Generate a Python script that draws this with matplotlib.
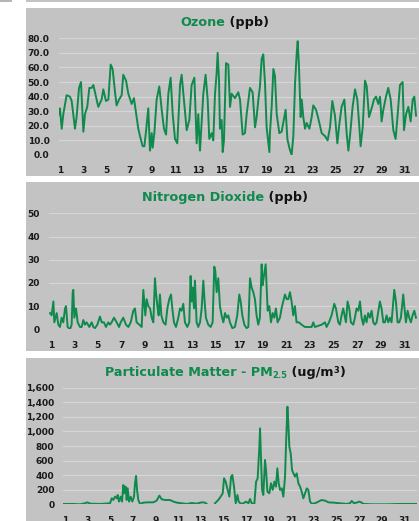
import numpy as np
import matplotlib
matplotlib.use("Agg")
import matplotlib.pyplot as plt
from matplotlib.patches import Rectangle
from matplotlib.ticker import FuncFormatter

# ---------------- data ----------------
ozone_day = [0.83,0.97,1.12,1.26,1.55,1.84,1.99,2.13,2.28,2.42,2.63,2.80,2.92,3.01,3.15,3.35,3.53,3.73,3.88,4.17,
             4.31,4.60,4.75,4.98,5.19,5.39,5.56,5.77,5.91,6.12,6.35,6.49,6.73,6.93,7.22,7.42,7.66,7.80,7.95,8.18,
             8.33,8.47,8.67,8.82,8.97,9.05,9.20,9.40,9.63,9.84,10.04,10.22,10.42,10.62,10.80,11.00,11.20,11.44,11.58,11.78,
             12.02,12.25,12.45,12.69,12.89,13.03,13.18,13.47,13.67,13.85,13.99,14.20,14.34,14.49,14.63,14.72,14.84,14.92,15.07,15.16,
             15.27,15.45,15.65,15.80,15.94,16.23,16.52,16.67,16.90,17.10,17.25,17.54,17.77,17.98,18.12,18.27,18.41,18.56,18.70,18.85,
             18.99,19.14,19.23,19.28,19.43,19.58,19.72,19.87,20.10,20.30,20.51,20.65,20.80,20.97,21.17,21.32,21.47,21.61,21.70,21.81,
             21.96,22.05,22.19,22.34,22.48,22.72,22.92,23.06,23.30,23.50,23.79,24.08,24.31,24.52,24.72,24.95,25.16,25.33,25.53,25.77,
             25.97,26.12,26.26,26.49,26.70,26.90,27.08,27.19,27.37,27.57,27.72,27.92,28.15,28.35,28.53,28.73,28.88,29.02,29.17,29.40,
             29.60,29.81,30.04,30.24,30.42,30.62,30.85,30.97,31.15,31.35,31.55,31.73,31.87,32.02]
ozone_ppb = [27,32,18,28,41,40,37,28,18,26,46,50,31,16,28,33,46,46,48,38,
             33,38,45,37,38,62,59,43,34,38,41,55,51,42,35,39,26,18,13,6,
             6,16,32,3,15,5,15,38,47,31,18,14,42,53,28,11,8,48,55,38,
             17,24,48,53,8,28,3,42,55,38,11,15,10,42,56,70,51,18,24,2,
             10,63,62,33,42,39,43,38,14,15,28,46,43,19,26,38,47,66,69,49,
             19,8,2,15,33,59,54,28,15,16,25,31,11,5,0,13,49,69,78,61,
             26,38,26,18,22,18,26,34,31,25,15,13,10,19,37,27,8,21,33,38,
             15,3,13,33,45,38,19,6,19,51,47,26,32,38,40,35,40,23,31,40,
             46,38,17,11,28,48,50,17,28,33,23,38,40,27]

no2_day = [0.94,1.08,1.23,1.31,1.51,1.65,1.79,1.93,2.07,2.22,2.30,2.44,2.64,2.78,2.87,2.92,3.01,3.15,3.29,3.49,
           3.63,3.77,3.91,4.05,4.28,4.48,4.62,4.76,4.96,5.18,5.33,5.52,5.69,5.89,6.03,6.17,6.37,6.60,6.80,6.94,
           7.16,7.39,7.59,7.79,8.01,8.15,8.29,8.52,8.72,8.86,8.94,9.03,9.14,9.28,9.43,9.57,9.71,9.85,9.93,10.05,
           10.16,10.27,10.39,10.56,10.75,10.90,11.06,11.21,11.32,11.46,11.63,11.83,11.97,12.11,12.25,12.39,12.59,12.76,12.87,12.96,
           13.04,13.16,13.24,13.38,13.52,13.67,13.81,13.95,14.06,14.17,14.37,14.57,14.74,14.88,14.97,15.08,15.22,15.36,15.50,15.65,
           15.79,15.93,16.07,16.21,16.41,16.63,16.83,17.00,17.12,17.26,17.43,17.62,17.77,17.91,18.05,18.19,18.33,18.47,18.61,18.75,
           18.90,18.98,19.09,19.24,19.32,19.41,19.55,19.69,19.83,19.97,20.11,20.25,20.45,20.59,20.73,20.88,21.02,21.16,21.30,21.44,
           21.58,21.72,21.86,22.06,22.29,22.57,22.85,23.14,23.28,23.42,23.70,23.99,24.27,24.41,24.61,24.83,25.06,25.20,25.40,25.54,
           25.68,25.82,26.05,26.19,26.33,26.47,26.67,26.81,26.95,27.10,27.24,27.38,27.52,27.66,27.80,27.94,28.09,28.23,28.37,28.51,
           28.65,28.93,29.07,29.22,29.36,29.50,29.64,29.78,29.92,30.15,30.29,30.43,30.57,30.71,30.91,31.00,31.14,31.28,31.42,31.56,
           31.70,31.85,31.99]
no2_ppb = [7,6,12,3,7,2,1,5,3,9,10,1,0,2,16,17,5,9,3,1,
           1,4,2,3,1,3,1,0.5,2,5.5,3,3,1,3,2,3,5,3,1,3,
           5,2,1,3,8,9,3,2,1,17,12,6,13,10,9,5,3,22,16,10,
           6,15,6,3,2,9,13,15,9,3,1,5,9,8,11,3,1,3,23,12,
           18,9,21,3,1,3,9,21,12,5,2,1,3,27,25,16,22,10,6,3,
           7,5,6,3,0.5,1,6,15,12,6,2,0.5,1,22,18,16,13,6,2,5,
           28,19,23,28,19,8,10,3,7,5,9,3,5,9,12,15,13,13,16,12,
           6,10,3,3,2,1,1,1,3,1,1.5,2,3,1,3,6,11,9,3,2,
           6,9,3,12,9,3,2,5,9,8,12,5,2,6,3,7,5,8,3,2,
           3,12,9,3,3,6,3,5,3,17,12,3,3,5,15,10,3,8,5,3,
           6,8,5]

pm_day = [0.85,1.74,2.33,2.77,2.97,3.21,4.09,4.98,5.13,5.27,5.42,5.57,5.66,5.77,5.92,6.04,6.16,6.25,6.36,6.45,
          6.54,6.66,6.81,6.95,7.10,7.19,7.28,7.37,7.48,7.63,7.93,8.37,8.81,9.10,9.34,9.55,9.84,10.28,10.58,10.87,
          11.31,11.76,12.20,12.64,13.08,13.38,13.52,13.90,14.26,14.55,14.76,14.94,15.06,15.20,15.38,15.53,15.68,15.79,15.94,16.09,
          16.24,16.35,16.53,16.77,17.00,17.21,17.36,17.50,17.74,17.89,18.03,18.18,18.24,18.33,18.42,18.53,18.68,18.77,18.89,19.06,
          19.21,19.36,19.51,19.65,19.77,19.89,20.01,20.16,20.30,20.45,20.54,20.66,20.74,20.83,20.95,21.07,21.19,21.33,21.48,21.63,
          21.78,21.92,22.07,22.22,22.37,22.51,22.66,22.81,23.10,23.40,23.69,23.99,24.28,24.72,25.31,25.90,26.19,26.34,26.55,26.78,
          27.02,27.23,27.37,28.26,29.44,30.61,32.09]
pm_ugm3 = [5,5,0,14,27,9,5,14,82,59,105,82,128,37,105,37,265,151,242,59,
           219,37,105,37,105,288,389,197,59,5,23,27,27,50,119,69,59,59,37,23,
           14,5,18,9,27,23,5,np.nan,14,59,105,151,357,311,197,105,379,402,242,14,
           128,37,9,14,37,14,73,14,9,311,357,791,1042,608,197,128,608,471,174,151,
           288,197,311,242,494,288,197,219,105,379,837,1339,1111,791,699,471,425,379,425,288,
           242,174,82,151,219,197,37,9,14,37,59,50,27,23,14,5,14,46,14,23,
           37,23,5,0,0,5,5]

days_ticks = list(range(1, 32, 2))
ozone_ticks = [0, 10, 20, 30, 40, 50, 60, 70, 80]
no2_ticks = [0, 10, 20, 30, 40, 50]
pm_ticks = [0, 200, 400, 600, 800, 1000, 1200, 1400, 1600]

# ---------------- style ----------------
GREEN = "#0f8a4c"
PANEL = "#c3c3c3"
GRID = "#d6d6d6"
FONT = "DejaVu Sans"
W, H = 419, 521

fig = plt.figure(figsize=(W / 100, H / 100), dpi=100)
fig.patch.set_facecolor("white")

def px_rect(x0, y0, x1, y1, color):
    fig.patches.append(Rectangle((x0 / W, 1 - y1 / H), (x1 - x0) / W, (y1 - y0) / H,
                                 transform=fig.transFigure, facecolor=color,
                                 edgecolor="none", zorder=-5))

# panel backgrounds (pixel coordinates of the layout)
px_rect(26, 0, 419, 2, PANEL)
px_rect(0, 0, 12, 1.5, "#b5b5b5")
px_rect(26, 8, 419, 175.5, PANEL)
px_rect(26, 182, 419, 351, PANEL)
px_rect(26, 358, 419, 521, PANEL)

def make_axes(left, right, top, bottom):
    ax = fig.add_axes([left / W, 1 - bottom / H, (right - left) / W, (bottom - top) / H])
    ax.set_facecolor("none")
    ax.set_zorder(2)
    for s in ax.spines.values():
        s.set_visible(False)
    ax.tick_params(length=0, labelsize=6.5)
    ax.tick_params(axis="y", pad=6.5)
    ax.tick_params(axis="x", pad=8.2)
    ax.grid(axis="y", color=GRID, linewidth=0.8)
    ax.set_axisbelow(True)
    return ax

def style_ticks(ax):
    for lab in ax.get_xticklabels() + ax.get_yticklabels():
        lab.set_fontfamily(FONT)
        lab.set_fontweight("bold")
        lab.set_color("#1a1a1a")

XLIM = (0.85, 32.07)

# Ozone
ax1 = make_axes(58.6, 416.6, 38.3, 155)
ax1.plot(ozone_day, ozone_ppb, color=GREEN, lw=1.4, solid_joinstyle="round")
ax1.set_xlim(*XLIM)
ax1.set_ylim(0, 80)
ax1.set_yticks(ozone_ticks)
ax1.yaxis.set_major_formatter(FuncFormatter(lambda v, p: f"{v:.1f}"))
ax1.set_xticks(days_ticks)
style_ticks(ax1)

# NO2
ax2 = make_axes(48.9, 416.9, 213.3, 329.3)
ax2.plot(no2_day, no2_ppb, color=GREEN, lw=1.4, solid_joinstyle="round")
ax2.set_xlim(*XLIM)
ax2.set_ylim(0, 50)
ax2.set_yticks(no2_ticks)
ax2.set_xticks(days_ticks)
style_ticks(ax2)

# PM2.5
ax3 = make_axes(63.3, 416.5, 387.7, 504.3)
ax3.plot(pm_day, pm_ugm3, color=GREEN, lw=1.4, solid_joinstyle="round")
ax3.set_xlim(*XLIM)
ax3.set_ylim(0, 1600)
ax3.set_yticks(pm_ticks)
ax3.yaxis.set_major_formatter(FuncFormatter(lambda v, p: f"{int(v):,}"))
ax3.set_xticks(days_ticks)
style_ticks(ax3)

# ---------------- titles built from coloured pieces ----------------
renderer = fig.canvas.get_renderer()

def title(pieces, xc, baseline):
    texts = []
    widths = []
    for s, color, size, dy in pieces:
        t = fig.text(0, 0, s, color=color, fontsize=size, fontfamily=FONT,
                     fontweight="bold", ha="left", va="baseline")
        bb = t.get_window_extent(renderer)
        texts.append((t, dy))
        widths.append(bb.width)
    total = sum(widths)
    x = xc - total / 2
    for (t, dy), w in zip(texts, widths):
        t.set_position((x / W, 1 - (baseline + dy) / H))
        x += w

TS = 9.2
title([("Ozone", GREEN, TS, 0), (" (ppb)", "#111111", TS, 0)], 225, 26)
title([("Nitrogen Dioxide", GREEN, TS, 0), (" (ppb)", "#111111", TS, 0)], 225, 201)
title([("Particulate Matter - PM", GREEN, TS, 0), ("2.5", GREEN, 6.0, 2.5),
       (" (ug/m", "#111111", TS, 0), ("3", "#111111", 6.0, -3.2), (")", "#111111", TS, 0)],
      225, 376)

fig.savefig("out.png", dpi=100, facecolor="white")
